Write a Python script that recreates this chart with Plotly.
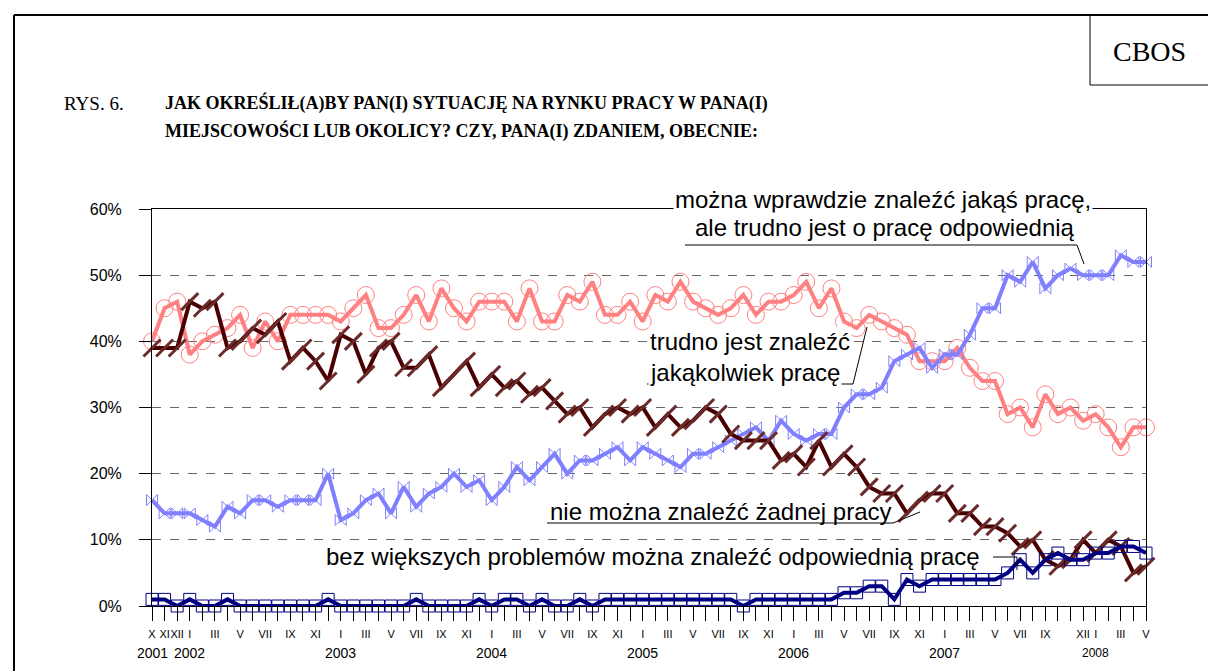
import plotly.graph_objects as go

# survey waves X 2001 - V 2008
months = ["X", "XI", "XII"] + ["I", "II", "III", "IV", "V", "VI", "VII", "VIII", "IX", "X", "XI", "XII"] * 6 \
    + ["I", "II", "III", "IV", "V"]
month_labels = ["X", "XI", "XII"] + ["I", "", "III", "", "V", "", "VII", "", "IX", "", "XI", ""] * 5 \
    + ["I", "", "III", "", "V", "", "VII", "", "IX", "", "", "XII"] + ["I", "", "III", "", "V"]
year_labels = {0: "2001", 3: "2002", 15: "2003", 27: "2004", 39: "2005", 51: "2006", 63: "2007", 75: "2008"}

trudno_jakakolwiek = [40, 45, 46, 38, 40, 41, 42, 44, 39, 43, 40, 44, 44, 44, 44, 43, 45, 47, 42, 42,
                      44, 47, 43, 48, 45, 43, 46, 46, 46, 43, 48, 43, 43, 47, 46, 49, 44, 44, 46, 43,
                      47, 46, 49, 46, 45, 44, 45, 47, 44, 46, 46, 47, 49, 45, 48, 43, 42, 44, 43, 42,
                      41, 37, 37, 37, 39, 36, 34, 34, 29, 30, 27, 32, 29, 30, 28, 29, 27, 24, 27, 27]
nie_mozna_zadnej = [39, 39, 39, 46, 45, 46, 39, 40, 42, 41, 43, 37, 39, 37, 34, 41, 40, 35, 39, 40,
                    36, 36, 38, 33, 35, 37, 33, 35, 33, 34, 32, 33, 31, 29, 30, 27, 29, 30, 29, 30,
                    27, 29, 27, 28, 30, 29, 26, 25, 25, 25, 22, 23, 21, 25, 21, 23, 21, 18, 17, 17,
                    14, 16, 17, 17, 14, 14, 12, 12, 11, 9, 10, 7, 6, 7, 10, 8, 10, 9, 5, 6]
wprawdzie_jakas = [16, 14, 14, 14, 13, 12, 15, 14, 16, 16, 15, 16, 16, 16, 20, 13, 14, 16, 17, 14,
                   18, 15, 17, 18, 20, 18, 19, 16, 18, 21, 19, 21, 23, 20, 22, 22, 23, 24, 22, 24,
                   23, 22, 21, 23, 23, 24, 25, 26, 27, 25, 28, 26, 25, 26, 26, 30, 32, 32, 33, 37,
                   38, 39, 36, 38, 38, 41, 45, 45, 50, 49, 52, 48, 50, 51, 50, 50, 50, 53, 52, 52]
bez_problemow = [1, 1, 0, 1, 0, 0, 1, 0, 0, 0, 0, 0, 0, 0, 1, 0, 0, 0, 0, 0,
                 0, 1, 0, 0, 0, 0, 1, 0, 1, 1, 0, 1, 0, 0, 1, 0, 1, 1, 1, 1,
                 1, 1, 1, 1, 1, 1, 1, 0, 1, 1, 1, 1, 1, 1, 1, 2, 2, 3, 3, 1,
                 4, 3, 4, 4, 4, 4, 4, 4, 5, 7, 5, 7, 8, 7, 7, 8, 8, 9, 9, 8]

idx = list(range(len(months)))

# page geometry in pixels
W, H = 1208, 671
L, R, T, B = 152, 1146, 209, 606


def px(x):
    return (x - L) / (R - L)


def py(y):
    return (B - y) / (B - T)


SANS = "Liberation Sans, Arial, sans-serif"
SERIF = "Liberation Serif, Times New Roman, serif"

fig = go.Figure()

series = [
    (trudno_jakakolwiek, "#FF8080", dict(symbol="circle-open", size=17, line=dict(width=1, color="#FF8080"))),
    (wprawdzie_jakas, "#8080FF", dict(symbol="bowtie-open", size=11, line=dict(width=1, color="#8080FF"))),
    (nie_mozna_zadnej, "#4A0000", dict(symbol="line-ne", size=17, line=dict(width=3, color="#6B2A2A"))),
    (bez_problemow, "#000080", dict(symbol="square-open", size=12, line=dict(width=1, color="#000080"))),
]
for vals, col, mk in series:
    fig.add_trace(go.Scatter(x=idx, y=vals, mode="lines+markers", line=dict(color=col, width=4),
                             marker=mk, cliponaxis=False, showlegend=False, hoverinfo="skip"))


def note(x, y, text, font, anchor="center", bg=None):
    d = dict(x=px(x), y=py(y), xref="paper", yref="paper", xanchor=anchor, yanchor="middle",
             text=text, showarrow=False, font=font, borderpad=1)
    if bg:
        d["bgcolor"] = bg
    return d


annotations = []
# title block
annotations.append(note(62, 103, "RYS. 6.", dict(family=SERIF, size=19, color="black"), "left"))
annotations.append(note(163, 103, "<b>JAK OKREŚLIŁ(A)BY PAN(I) SYTUACJĘ NA RYNKU PRACY W PANA(I)</b>",
                        dict(family=SERIF, size=18, color="black"), "left"))
annotations.append(note(163, 131, "<b>MIEJSCOWOŚCI LUB OKOLICY? CZY, PANA(I) ZDANIEM, OBECNIE:</b>",
                        dict(family=SERIF, size=18, color="black"), "left"))
annotations.append(note(1149, 51, "CBOS", dict(family=SERIF, size=28, color="black")))

# series labels
lab_font = dict(family=SANS, size=24, color="black")
annotations.append(note(883, 199, "można wprawdzie znaleźć jakąś pracę,", lab_font, bg="white"))
annotations.append(note(885, 227, "ale trudno jest o pracę odpowiednią", lab_font, bg="white"))
annotations.append(note(750, 341, "trudno jest znaleźć", lab_font, bg="white"))
annotations.append(note(745, 372, "jakąkolwiek pracę", lab_font, bg="white"))
annotations.append(note(721, 511, "nie można znaleźć żadnej pracy", lab_font))
annotations.append(note(653, 556, "bez większych problemów można znaleźć odpowiednią pracę", lab_font))

# year labels under the month axis
for i, yr in year_labels.items():
    annotations.append(dict(x=i, y=py(653), xref="x", yref="paper", xanchor="center", yanchor="middle",
                            text=yr, showarrow=False,
                            font=dict(family=SANS, size=12 if yr == "2008" else 14, color="black")))

shapes = []
line_k = dict(color="black", width=1)
# page frame and CBOS box
shapes.append(dict(type="line", xref="paper", yref="paper", x0=px(14), x1=px(W), y0=py(15), y1=py(15),
                   line=dict(color="black", width=2)))
shapes.append(dict(type="line", xref="paper", yref="paper", x0=px(14), x1=px(14), y0=py(15), y1=py(H),
                   line=dict(color="black", width=2)))
shapes.append(dict(type="line", xref="paper", yref="paper", x0=px(1090), x1=px(1090), y0=py(15), y1=py(85),
                   line=line_k))
shapes.append(dict(type="line", xref="paper", yref="paper", x0=px(1090), x1=px(W), y0=py(85), y1=py(85),
                   line=line_k))
# label leader lines
for pts in [
    [(685, 245), (1077, 245), (1084, 264)],
    [(647, 384), (853, 384), (867, 327)],
    [(547, 523), (893, 523), (920, 512)],
    [(993, 557), (1017, 557), (1017, 570)],
]:
    for (xa, ya), (xb, yb) in zip(pts[:-1], pts[1:]):
        shapes.append(dict(type="line", xref="paper", yref="paper", x0=px(xa), x1=px(xb),
                           y0=py(ya), y1=py(yb), line=line_k))

fig.update_layout(
    width=W, height=H,
    margin=dict(l=L, r=W - R, t=T, b=H - B),
    paper_bgcolor="white", plot_bgcolor="white",
    showlegend=False,
    xaxis=dict(range=[0, len(months) - 1], tickmode="array", tickvals=idx, ticktext=month_labels,
               ticks="outside", ticklen=14, tickcolor="black", tickwidth=1, ticklabelstandoff=4,
               tickfont=dict(family=SANS, size=11, color="black"), tickangle=0,
               showgrid=False, zeroline=False, showline=True, linecolor="black", linewidth=1, mirror=True),
    yaxis=dict(range=[0, 60], tickvals=[0, 10, 20, 30, 40, 50, 60],
               ticktext=["0%", "10%", "20%", "30%", "40%", "50%", "60%"],
               ticks="outside", ticklen=12, tickcolor="black", ticklabelstandoff=14,
               tickfont=dict(family=SANS, size=16, color="black"),
               showgrid=True, gridcolor="#666666", griddash="dash", gridwidth=1,
               zeroline=False, showline=True, linecolor="black", linewidth=1, mirror=True),
    annotations=annotations,
    shapes=shapes,
)

# drop the default page margin so the figure sits at the window corner
fig.write_html("out.html", config={"displayModeBar": False},
               post_script="document.body.style.margin='0px';")
